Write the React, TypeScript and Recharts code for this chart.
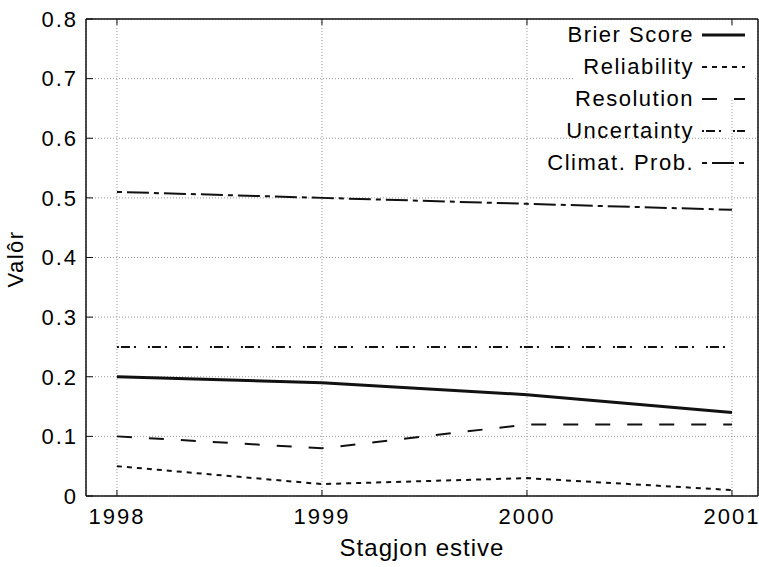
import { LineChart, Line, XAxis, YAxis, CartesianGrid, Legend } from "recharts";

const years = [1998, 1999, 2000, 2001];
const brierScore = [0.2, 0.19, 0.17, 0.14];
const reliability = [0.05, 0.02, 0.03, 0.01];
const resolution = [0.1, 0.08, 0.12, 0.12];
const uncertainty = [0.25, 0.25, 0.25, 0.25];
const climatProb = [0.51, 0.5, 0.49, 0.48];
const yTicks = [0, 0.1, 0.2, 0.3, 0.4, 0.5, 0.6, 0.7, 0.8];

const FONT = "'Liberation Sans', Arial, Helvetica, sans-serif";
const INK = "#111";

const SERIES = [
  { key: "brier", name: "Brier Score", values: brierScore, width: 3, dash: undefined as string | undefined },
  { key: "rel", name: "Reliability", values: reliability, width: 2, dash: "5 5" },
  { key: "res", name: "Resolution", values: resolution, width: 2, dash: "15 17" },
  { key: "unc", name: "Uncertainty", values: uncertainty, width: 2, dash: "2 2 9 4 2 12" },
  { key: "clim", name: "Climat. Prob.", values: climatProb, width: 2, dash: "5 5 22 5" },
];

const data = years.map((year, i) => {
  const row: Record<string, number> = { year };
  for (const s of SERIES) row[s.key] = s.values[i];
  return row;
});

const tickStyle = { fill: "#000", fontSize: 22, fontFamily: FONT, letterSpacing: 2 };
const noTick = () => <g />;

function KeyBox() {
  return (
    <div style={{ position: "relative", width: 0, height: 0 }}>
      {/* gnuplot erases part of the grid behind the key */}
      <div
        style={{
          position: "absolute",
          left: 575,
          top: 26,
          width: 179,
          height: 74,
          background: "#fff",
        }}
      />
      {SERIES.map((s, i) => (
        <div
          key={s.key}
          style={{
            position: "absolute",
            left: 380,
            top: 19 + i * 32,
            width: 370,
            height: 32,
            display: "flex",
            alignItems: "center",
            justifyContent: "flex-end",
            fontFamily: FONT,
            fontSize: 22,
            letterSpacing: 1.5,
            color: "#000",
            whiteSpace: "nowrap",
          }}
        >
          <span style={{ marginRight: 8 }}>{s.name}</span>
          <svg width={43} height={10} style={{ marginRight: 5 }}>
            <line
              x1={0}
              x2={43}
              y1={5}
              y2={5}
              stroke={INK}
              strokeWidth={s.width}
              strokeDasharray={s.dash}
            />
          </svg>
        </div>
      ))}
    </div>
  );
}

export default function App() {
  return (
    <div style={{ position: "absolute", left: 0, top: 0, background: "#fff" }}>
      <LineChart
        width={759}
        height={567}
        data={data}
        margin={{ top: 18, right: 0, bottom: 0, left: 0 }}
      >
        <CartesianGrid stroke="#999" strokeDasharray="1 2" vertical horizontal />
        <XAxis
          dataKey="year"
          type="number"
          domain={[1997.849, 2001.127]}
          ticks={years}
          allowDataOverflow
          height={71}
          tickSize={-6}
          tickMargin={18}
          axisLine={{ stroke: INK, strokeWidth: 1.5 }}
          tickLine={{ stroke: INK }}
          tick={tickStyle}
          label={{
            value: "Stagjon estive",
            position: "insideBottom",
            offset: 11,
            fill: "#000",
            fontSize: 24,
            fontFamily: FONT,
            letterSpacing: 1,
          }}
        />
        <XAxis
          xAxisId="top"
          dataKey="year"
          type="number"
          orientation="top"
          domain={[1997.849, 2001.127]}
          ticks={years}
          allowDataOverflow
          height={1}
          tickSize={-6}
          axisLine={{ stroke: INK, strokeWidth: 1.5 }}
          tickLine={{ stroke: INK }}
          tick={noTick}
        />
        <YAxis
          domain={[0, 0.8]}
          ticks={yTicks}
          width={86}
          tickSize={-7}
          tickMargin={15}
          axisLine={{ stroke: INK, strokeWidth: 1.5 }}
          tickLine={{ stroke: INK }}
          tick={tickStyle}
          tickFormatter={(v: number) => (v === 0 ? "0" : String(v))}
          label={{
            value: "Valôr",
            content: ({ viewBox }: any) => (
              <text
                x={viewBox.x + 15}
                y={viewBox.y + 240}
                transform={`rotate(-90, ${viewBox.x + 15}, ${viewBox.y + 240})`}
                textAnchor="middle"
                dominantBaseline="central"
                fill="#000"
                fontSize={22}
                fontFamily={FONT}
                letterSpacing={1.5}
              >
                Valôr
              </text>
            ),
          }}
        />
        <YAxis
          yAxisId="right"
          orientation="right"
          domain={[0, 0.8]}
          ticks={yTicks}
          width={1}
          tickSize={-7}
          axisLine={{ stroke: INK, strokeWidth: 1.5 }}
          tickLine={{ stroke: INK }}
          tick={noTick}
        />
        <Legend
          layout="horizontal"
          verticalAlign="middle"
          align="center"
          wrapperStyle={{ left: 0, top: 0, width: 0, height: 0 }}
          content={() => <KeyBox />}
        />
        {SERIES.map((s) => (
          <Line
            key={s.key}
            type="linear"
            dataKey={s.key}
            name={s.name}
            stroke={INK}
            strokeWidth={s.width}
            strokeDasharray={s.dash}
            dot={false}
            activeDot={false}
            isAnimationActive={false}
          />
        ))}
      </LineChart>
    </div>
  );
}
